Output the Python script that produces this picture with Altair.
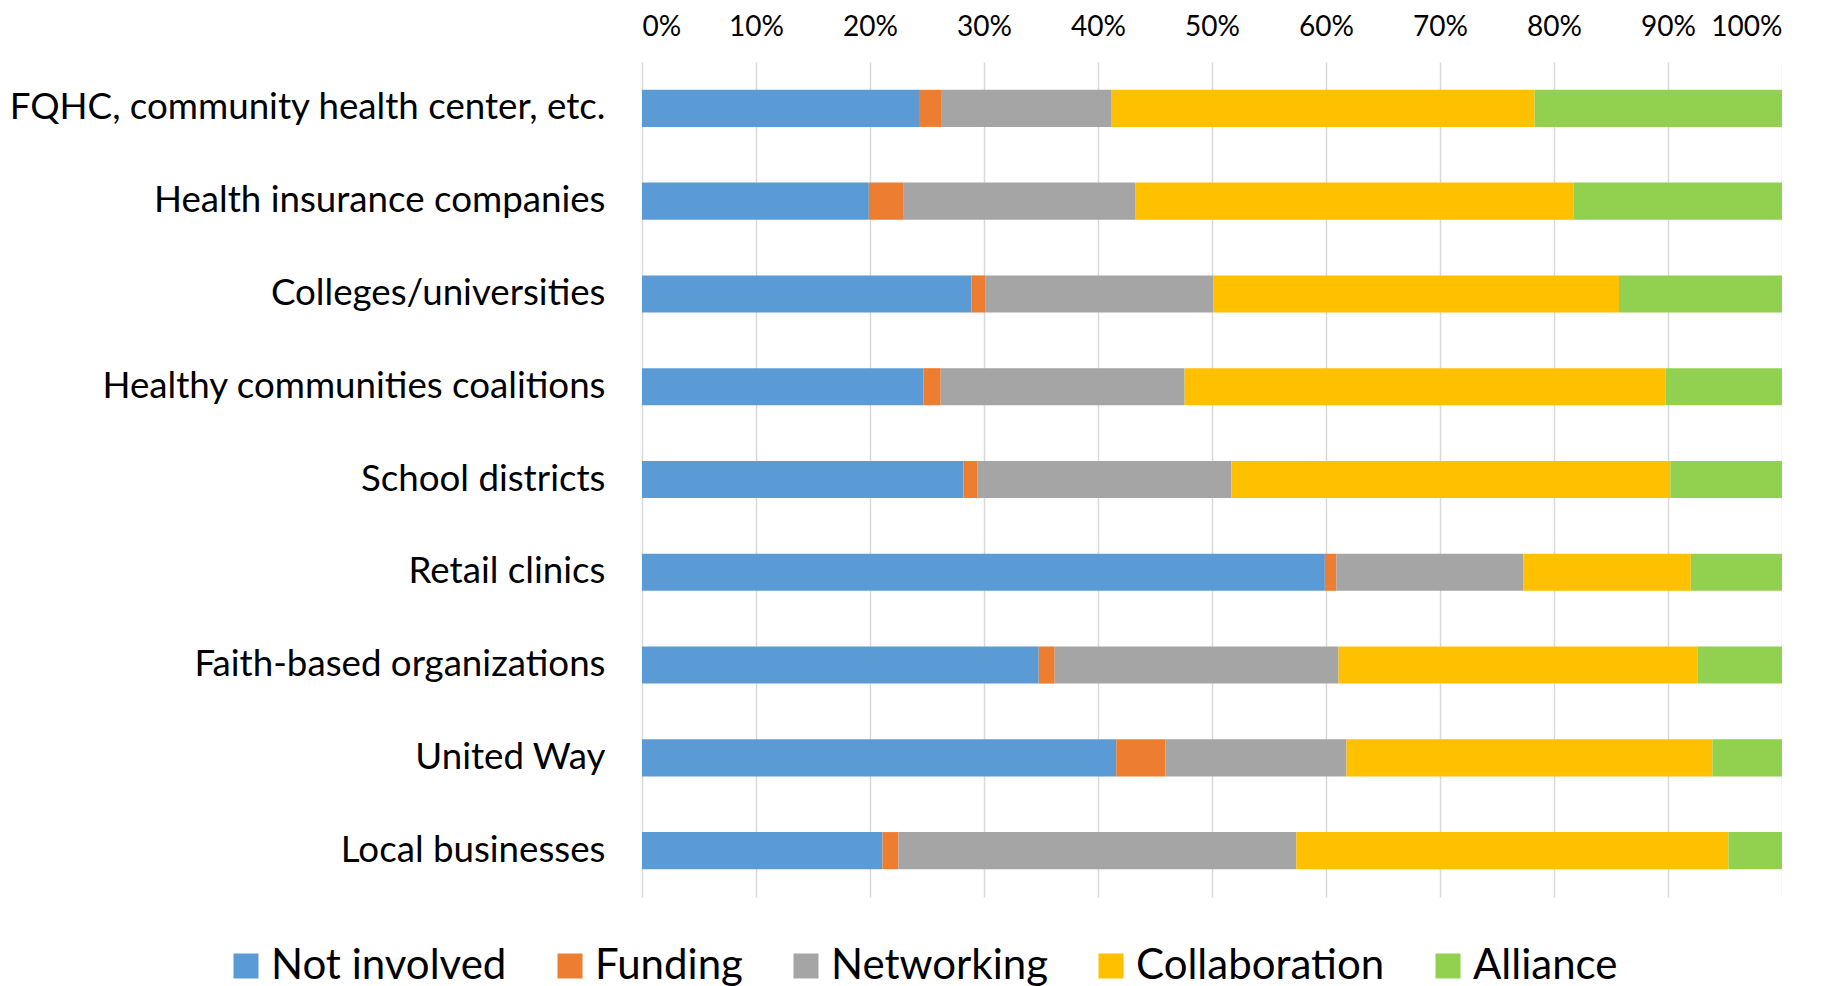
import altair as alt
import pandas as pd

categories = [
    "FQHC, community health center, etc.",
    "Health insurance companies",
    "Colleges/universities",
    "Healthy communities coalitions",
    "School districts",
    "Retail clinics",
    "Faith-based organizations",
    "United Way",
    "Local businesses",
]
levels = ["Not involved", "Funding", "Networking", "Collaboration", "Alliance"]
colors = ["#5B9BD5", "#ED7D31", "#A5A5A5", "#FFC000", "#92D050"]

not_involved = [24.3, 19.9, 28.9, 24.7, 28.2, 59.9, 34.8, 41.6, 21.1]
funding = [2.0, 3.0, 1.2, 1.5, 1.2, 1.0, 1.4, 4.3, 1.4]
networking = [14.9, 20.4, 20.0, 21.4, 22.3, 16.4, 24.9, 15.9, 34.9]
collaboration = [37.1, 38.4, 35.6, 42.2, 38.5, 14.7, 31.5, 32.1, 37.9]
alliance = [21.7, 18.3, 14.3, 10.2, 9.8, 8.0, 7.4, 6.1, 4.7]

series = [not_involved, funding, networking, collaboration, alliance]
rows = []
for li, (lvl, vals) in enumerate(zip(levels, series)):
    for cat, v in zip(categories, vals):
        rows.append({"category": cat, "level": lvl, "idx": li, "value": v})
df = pd.DataFrame(rows)

FONT = "Lato"

chart = (
    alt.Chart(df)
    .mark_bar()
    .encode(
        x=alt.X(
            "value:Q",
            stack="normalize",
            scale=alt.Scale(domain=[0, 1], nice=False),
            axis=alt.Axis(
                orient="top",
                format=".0%",
                values=[i / 10 for i in range(11)],
                domain=False,
                ticks=False,
                grid=True,
                gridColor="#d9d9d9",
                gridWidth=1.5,
                labelFontSize=28,
                labelPadding=21,
                labelColor="#000000",
                labelFont=FONT,
                title=None,
            ),
        ),
        y=alt.Y(
            "category:N",
            sort=categories,
            scale=alt.Scale(paddingInner=0.6, paddingOuter=0.3),
            axis=alt.Axis(
                title=None,
                domain=False,
                ticks=False,
                labelFontSize=36.7,
                labelPadding=37,
                labelLimit=1000,
                labelColor="#000000",
                labelFont=FONT,
            ),
        ),
        color=alt.Color(
            "level:N",
            scale=alt.Scale(domain=levels, range=colors),
            legend=alt.Legend(
                orient="none",
                legendX=-417,
                legendY=883,
                direction="horizontal",
                title=None,
                symbolType="square",
                symbolSize=625,
                symbolStrokeWidth=0,
                labelFontSize=42,
                labelFont=FONT,
                labelColor="#000000",
                labelLimit=1000,
                columnPadding=42,
                labelOffset=4,
            ),
        ),
        order=alt.Order("idx:Q"),
    )
    .properties(width=1140, height=835, padding={"top": 5, "left": 0, "right": 0, "bottom": 0})
    .configure_view(stroke=None)
)

chart.save("out.html", embed_options={"renderer": "svg", "actions": False})
